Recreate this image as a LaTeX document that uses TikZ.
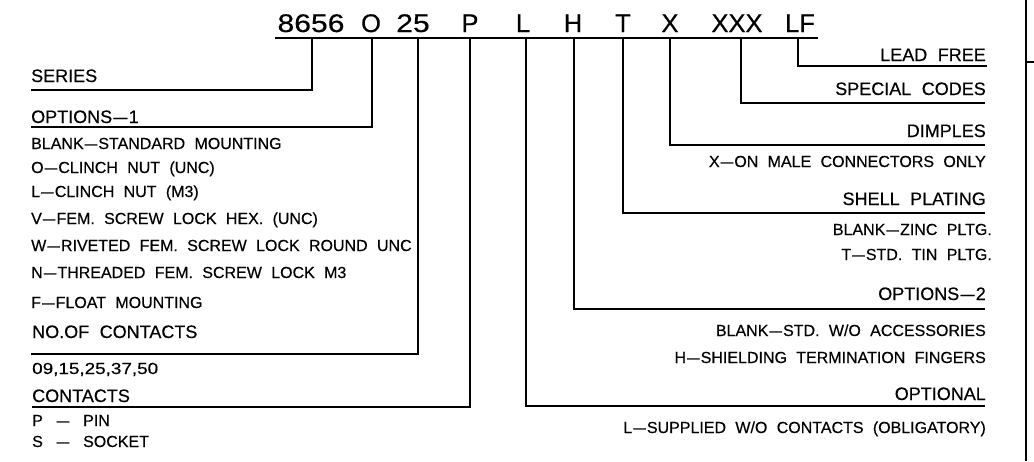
\documentclass[tikz,border=0pt]{standalone}
\usepackage{graphicx}
\usepackage{fontspec}
\setmainfont[WordSpace=2.1,FakeBold=0.4]{Liberation Sans}
\newcommand{\wdig}[1]{\scalebox{1.18}[1]{#1}}
\newcommand{\dsh}{\kern0.07em\scalebox{1.4}[1]{–}\kern0.07em}
\begin{document}
\begin{tikzpicture}[x=1pt,y=-1pt,
  ln/.style={line width=1.7pt},
  codetxt/.style={inner sep=0pt,anchor=base,font=\fontsize{25.5}{26}\selectfont},
  hl/.style={inner sep=0pt,anchor=base west,font=\fontsize{18}{18}\selectfont},
  il/.style={inner sep=0pt,anchor=base west,font=\fontsize{16}{17}\selectfont},
  hr/.style={inner sep=0pt,anchor=base east,font=\fontsize{18}{18}\selectfont},
  ir/.style={inner sep=0pt,anchor=base east,font=\fontsize{16}{17}\selectfont}]
\useasboundingbox (0,0) rectangle (1034,461);
% right frame
\coordinate (frT) at (1026,0);
\coordinate (frB) at (1026,461);
\coordinate (tkA) at (1026,62);
\coordinate (tkB) at (1034,62);
\draw[ln] (frT) -- (frB);
\draw[ln] (tkA) -- (tkB);
% code
\node[codetxt] (c1) at (311,32) {\wdig{8656}};
\node[codetxt] (c2) at (371,32) {O};
\node[codetxt] (c3) at (413,32) {\wdig{25}};
\node[codetxt] (c4) at (470,32) {P};
\node[codetxt] (c5) at (523,32) {L};
\node[codetxt] (c6) at (573,32) {H};
\node[codetxt] (c7) at (623,32) {T};
\node[codetxt] (c8) at (670,32) {X};
\node[codetxt] (c9) at (737,32) {XXX};
\node[codetxt] (c10) at (800,32) {LF};
\coordinate (topL) at (275,38);
\coordinate (topR) at (818,38);
\draw[ln] (topL) -- (topR);
% drop points on top line
\coordinate (d1) at (312,38);
\coordinate (d2) at (372,38);
\coordinate (d3) at (418,38);
\coordinate (d4) at (470,38);
\coordinate (d5) at (526,38);
\coordinate (d6) at (574,38);
\coordinate (d7) at (623,38);
\coordinate (d8) at (670,38);
\coordinate (d9) at (741,38);
\coordinate (d10) at (798,38);
% line ends
\coordinate (e1) at (31,90);
\coordinate (e2) at (31,127);
\coordinate (e3) at (31,354);
\coordinate (e4) at (32,407);
\coordinate (e5) at (985,406);
\coordinate (e6) at (985,309);
\coordinate (e7) at (985,213);
\coordinate (e8) at (985,145);
\coordinate (e9) at (985,103);
\coordinate (e10) at (987,66);
\foreach \i in {1,...,10} {\draw[ln] (d\i) |- (e\i);}
% left labels
\node[hl] (series) at (31,82) {SERIES};
\node[hl] (opt1) at (31,123) {OPTIONS\dsh 1};
\node[il] (o1a) at (31,149) {BLANK\dsh STANDARD MOUNTING};
\node[il] (o1b) at (31,173) {O\dsh CLINCH NUT (UNC)};
\node[il] (o1c) at (31,197) {L\dsh CLINCH NUT (M3)};
\node[il] (o1d) at (31,224) {V\dsh FEM. SCREW LOCK HEX. (UNC)};
\node[il] (o1e) at (31,251) {W\dsh RIVETED FEM. SCREW LOCK ROUND UNC};
\node[il] (o1f) at (31,278) {N\dsh THREADED FEM. SCREW LOCK M3};
\node[il] (o1g) at (31,308) {F\dsh FLOAT MOUNTING};
\node[hl] (noc) at (32,338) {NO.OF CONTACTS};
\node[il] (noca) at (32,374) {\wdig{09,15,25,37,50}};
\node[hl] (cont) at (32,402) {CONTACTS};
\node[il] (conta) at (32,426) {P\hspace{0.8em}\dsh\hspace{0.8em}PIN};
\node[il] (contb) at (32,447) {S\hspace{0.8em}\dsh\hspace{0.8em}SOCKET};
% right labels
\node[hr] (lf) at (986,61) {LEAD FREE};
\node[hr] (spc) at (986,95) {SPECIAL CODES};
\node[hr] (dim) at (986,137) {DIMPLES};
\node[ir] (dima) at (986,167) {X\dsh ON MALE CONNECTORS ONLY};
\node[hr] (shp) at (986,205) {SHELL PLATING};
\node[ir] (shpa) at (992,235) {BLANK\dsh ZINC PLTG.};
\node[ir] (shpb) at (992,260) {T\dsh STD. TIN PLTG.};
\node[hr] (opt2) at (986,300) {OPTIONS\dsh 2};
\node[ir] (opt2a) at (986,336) {BLANK\dsh STD. W/O ACCESSORIES};
\node[ir] (opt2b) at (986,363) {H\dsh SHIELDING TERMINATION FINGERS};
\node[hr] (optl) at (986,400) {OPTIONAL};
\node[ir] (optla) at (986,433) {L\dsh SUPPLIED W/O CONTACTS (OBLIGATORY)};
\end{tikzpicture}
\end{document}
